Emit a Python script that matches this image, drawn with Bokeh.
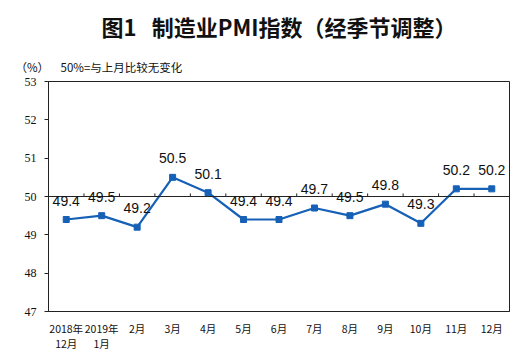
from bokeh.plotting import figure
from bokeh.models import (FactorRange, Range1d, LabelSet, Title, ColumnDataSource,
                          FixedTicker, Span)
from bokeh.core.properties import value
from bokeh.embed import file_html
from bokeh.resources import INLINE

months = ["2018年\n12月", "2019年\n1月", "2月", "3月", "4月", "5月", "6月",
          "7月", "8月", "9月", "10月", "11月", "12月"]
pmi = [49.4, 49.5, 49.2, 50.5, 50.1, 49.4, 49.4, 49.7, 49.5, 49.8, 49.3, 50.2, 50.2]
y_ticks = [47, 48, 49, 50, 51, 52, 53]
baseline = 50
title_text = "图1\u2002\u2009制造业PMI指数（经季节调整）"
unit_text = "（%）"
note_text = "50%=与上月比较无变化"

BLUE = "#1660b6"

p = figure(width=520, height=355, x_range=FactorRange(*months, range_padding=0),
           y_range=Range1d(47, 53), output_backend="svg", toolbar_location=None,
           min_border_left=48, min_border_right=11, min_border_top=81,
           min_border_bottom=44)
p.background_fill_color = "white"
p.border_fill_color = "white"
p.outline_line_color = "#222222"
p.outline_line_width = 1
p.grid.visible = False

# y axis
p.yaxis.ticker = FixedTicker(ticks=y_ticks)
p.yaxis.major_tick_out = 4
p.yaxis.major_tick_in = 0
p.yaxis.minor_tick_line_color = None
p.yaxis.axis_line_color = "#222222"
p.yaxis.major_tick_line_color = "#222222"
p.yaxis.major_label_text_font = "Liberation Serif"
p.yaxis.major_label_text_font_size = "12px"
p.yaxis.major_label_text_color = "#111111"
p.yaxis.major_label_standoff = 8

# x axis
p.xaxis.major_tick_line_color = None
p.xaxis.axis_line_color = "#222222"
p.xaxis.major_label_text_font = "Noto Sans CJK SC"
p.xaxis.major_label_text_font_size = "10.5px"
p.xaxis.major_label_text_color = "#111111"
p.xaxis.major_label_standoff = 3
p.xaxis.major_label_text_line_height = 1.0

# baseline at 50 with category boundary ticks
p.add_layout(Span(location=baseline, dimension="width", line_color="#222222", line_width=1))
bx = [(m, 0.5) for m in months[:-1]]
p.segment(x0=bx, x1=bx, y0=[baseline] * len(bx), y1=[baseline + 0.08] * len(bx),
          line_color="#222222", line_width=1)

src = ColumnDataSource(dict(x=months, y=pmi, t=[f"{v:.1f}" for v in pmi]))
p.line("x", "y", source=src, line_color=BLUE, line_width=2.2)
p.scatter("x", "y", source=src, marker="square", size=6, fill_color=BLUE, line_color=BLUE)

p.add_layout(LabelSet(x="x", y="y", text="t", source=src, y_offset=19,
                      text_align="center", text_baseline="middle",
                      text_font=value("Liberation Sans"), text_font_size=value("14px"),
                      text_color="#111111"))

sub = Title(text=unit_text + "\u3000\u2002" + note_text, align="left", offset=-33,
            text_font="Noto Sans CJK SC", text_font_size="11.5px",
            text_font_style="normal", text_color="#111111", standoff=14)
p.add_layout(sub, "above")
main = Title(text=title_text, align="center", offset=8,
             text_font="Noto Sans CJK SC", text_font_size="22px",
             text_font_style="bold", text_color="#111111", standoff=15)
p.add_layout(main, "above")

open("out.html", "w").write(file_html(p, INLINE))
